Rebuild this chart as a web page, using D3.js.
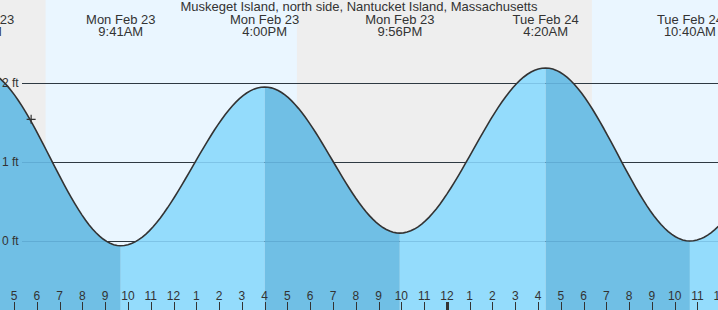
<!DOCTYPE html>
<html>
<head>
<meta charset="utf-8">
<script src="https://cdn.jsdelivr.net/npm/d3@7"></script>
<style>
  body { margin: 0; background: #fff; }
  svg { display: block; font-family: "Liberation Sans", Arial, sans-serif; }
</style>
</head>
<body>
<div class="chart"></div>
<script>
var title = "Muskeget Island, north side, Nantucket Island, Massachusetts";

// tide extremes (time, feet)
var tideTimes = ["2026-02-23 03:29", "2026-02-23 09:41", "2026-02-23 16:00", "2026-02-23 21:56",
                 "2026-02-24 04:20", "2026-02-24 10:40", "2026-02-24 16:55"];
var tideHeights = [2.17, -0.06, 1.95, 0.1, 2.19, 0.0, 1.95];

// sunrise / sunset
var dayStarts = ["2026-02-23 06:23", "2026-02-24 06:22"];
var dayEnds = ["2026-02-23 17:25", "2026-02-24 17:26"];

var viewStart = "2026-02-23 04:23";
var viewEnd = "2026-02-24 11:54";

var yTicks = [0, 1, 2];

var nowTime = "2026-02-23 05:45";
var nowHeight = 1.54;

var width = 718, height = 310;
var parse = d3.timeParse("%Y-%m-%d %H:%M");

var tides = tideTimes.map(function(t, i) {
    return { time: parse(t), h: tideHeights[i] };
});

// cosine curve between the highs and lows
function CosineCurve(context) { this._context = context; }
CosineCurve.prototype = {
    areaStart: function() { this._line = 0; },
    areaEnd: function() { this._line = NaN; },
    lineStart: function() { this._point = 0; },
    lineEnd: function() {
        if (this._line || (this._line !== 0 && this._point === 1)) this._context.closePath();
        this._line = 1 - this._line;
    },
    point: function(px, py) {
        px = +px; py = +py;
        if (this._point === 0) {
            this._point = 1;
            if (this._line) this._context.lineTo(px, py); else this._context.moveTo(px, py);
        } else {
            this._point = 2;
            for (var k = 1; k <= 40; k++) {
                var t = k / 40, s = (1 - Math.cos(Math.PI * t)) / 2;
                this._context.lineTo(this._x0 + (px - this._x0) * t, this._y0 + (py - this._y0) * s);
            }
        }
        this._x0 = px; this._y0 = py;
    }
};
function curveCosine(context) { return new CosineCurve(context); }

var x = d3.scaleTime()
    .domain([parse(viewStart), parse(viewEnd)])
    .range([0, width]);

var y = d3.scaleLinear()
    .domain([0, 2])
    .range([241, 83]);

var svg = d3.select(".chart").append("svg")
    .attr("width", width)
    .attr("height", height);

// night background
svg.append("rect")
    .attr("width", width)
    .attr("height", height)
    .attr("fill", "#eeeeee");

// daylight
svg.selectAll("rect.day")
    .data(dayStarts)
    .enter()
    .append("rect")
    .attr("class", "day")
    .attr("x", function(d) { return x(parse(d)); })
    .attr("width", function(d, i) { return x(parse(dayEnds[i])) - x(parse(d)); })
    .attr("y", 0)
    .attr("height", height)
    .attr("fill", "#eaf6ff");

// grid lines (under the water)
svg.selectAll("line.grid")
    .data(yTicks)
    .enter()
    .append("line")
    .attr("class", "grid")
    .attr("x1", 22)
    .attr("x2", width)
    .attr("y1", function(d) { return Math.round(y(d)) + 0.5; })
    .attr("y2", function(d) { return Math.round(y(d)) + 0.5; })
    .attr("stroke", "#333")
    .attr("stroke-width", 1);

// water, one piece per rise / fall
var area = d3.area()
    .curve(curveCosine)
    .x(function(d) { return x(d.time); })
    .y0(height)
    .y1(function(d) { return y(d.h); });

var pairs = d3.pairs(tides);

svg.selectAll("path.water")
    .data(pairs)
    .enter()
    .append("path")
    .attr("class", "water")
    .attr("d", area)
    .attr("fill", function(d) { return d[1].h < d[0].h ? "#70bfe5" : "#94dcfc"; });

// grid lines seen through the water
svg.selectAll("line.grid2")
    .data(yTicks)
    .enter()
    .append("line")
    .attr("x1", 22)
    .attr("x2", width)
    .attr("y1", function(d) { return Math.round(y(d)) + 0.5; })
    .attr("y2", function(d) { return Math.round(y(d)) + 0.5; })
    .attr("stroke", "#1a5a8a")
    .attr("stroke-opacity", 0.18);

// tide curve
var line = d3.line()
    .curve(curveCosine)
    .x(function(d) { return x(d.time); })
    .y(function(d) { return y(d.h); });

svg.append("path")
    .datum(tides)
    .attr("d", line)
    .attr("fill", "none")
    .attr("stroke", "#333")
    .attr("stroke-width", 1.6);

// y labels
svg.selectAll("text.ylab")
    .data(yTicks)
    .enter()
    .append("text")
    .attr("x", 2)
    .attr("y", function(d) { return y(d) + 4; })
    .attr("font-size", 12)
    .attr("fill", "#333")
    .text(function(d) { return d + " ft"; });

// title
svg.append("text")
    .attr("x", width / 2)
    .attr("y", 11)
    .attr("text-anchor", "middle")
    .attr("font-size", 13)
    .attr("fill", "#333")
    .text(title);

// extreme labels
var fmtDate = d3.timeFormat("%a %b %-d");
var fmtTime = d3.timeFormat("%-I:%M%p");

var labels = svg.selectAll("g.ev")
    .data(tides)
    .enter()
    .append("g")
    .attr("transform", function(d) { return "translate(" + x(d.time) + ",0)"; });

labels.append("text")
    .attr("y", 24)
    .attr("text-anchor", "middle")
    .attr("font-size", 13)
    .attr("fill", "#333")
    .text(function(d) { return fmtDate(d.time); });

labels.append("text")
    .attr("y", 36)
    .attr("text-anchor", "middle")
    .attr("font-size", 13)
    .attr("fill", "#333")
    .text(function(d) { return fmtTime(d.time); });

// current time marker
svg.append("path")
    .attr("transform", "translate(" + x(parse(nowTime)) + "," + y(nowHeight) + ")")
    .attr("d", "M-4.5,0H4.5M0,-4.5V4.5")
    .attr("stroke", "#333")
    .attr("stroke-width", 1.2);

// hour axis
var hours = d3.timeHour.range(x.domain()[0], d3.timeHour.offset(x.domain()[1], 1));

svg.selectAll("line.htick")
    .data(hours)
    .enter()
    .append("line")
    .attr("x1", function(d) { return Math.round(x(d)) + 0.5; })
    .attr("x2", function(d) { return Math.round(x(d)) + 0.5; })
    .attr("y1", 302)
    .attr("y2", height)
    .attr("stroke", "#333")
    .attr("stroke-width", function(d) { return d.getHours() === 0 ? 3 : 1; });

svg.selectAll("text.hlab")
    .data(hours)
    .enter()
    .append("text")
    .attr("x", function(d) { return x(d); })
    .attr("y", 300)
    .attr("text-anchor", "middle")
    .attr("font-size", 12)
    .attr("fill", "#333")
    .text(d3.timeFormat("%-I"));
</script>
</body>
</html>
